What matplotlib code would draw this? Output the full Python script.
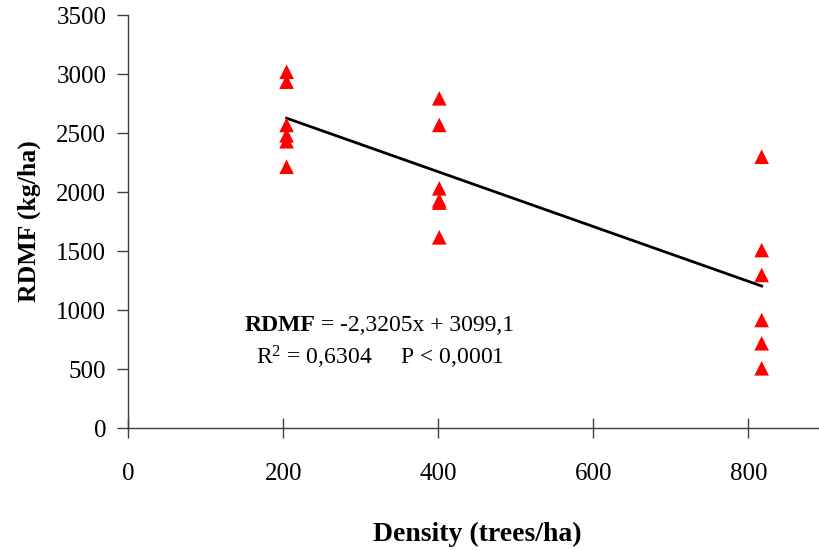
import matplotlib
matplotlib.use("Agg")
import matplotlib.pyplot as plt
import numpy as np

# density (trees/ha) and RDMF (kg/ha)
density = [204, 204, 204, 204, 204, 204,
           401, 401, 401, 401, 401, 401,
           817, 817, 817, 817, 817, 817]
rdmf = [3019, 2935, 2568, 2480, 2430, 2214,
        2794, 2568, 2031, 1930, 1910, 1616,
        2299, 1508, 1297, 915, 718, 506]

slope = -2.3205
intercept = 3099.1

xticks = [0, 200, 400, 600, 800]
yticks = [0, 500, 1000, 1500, 2000, 2500, 3000, 3500]

plt.rcParams['font.family'] = ['Liberation Serif', 'DejaVu Serif']
plt.rcParams['mathtext.fontset'] = 'custom'
plt.rcParams['mathtext.rm'] = 'Liberation Serif'
plt.rcParams['mathtext.default'] = 'regular'

fig = plt.figure(figsize=(8.2, 5.5), dpi=100)
ax = fig.add_axes([0.1567, 0.2218, 0.8506, 0.7509])

ax.scatter(density, rdmf, marker='^', s=110, color='red', edgecolors='none', zorder=3)

xl = np.array([min(density), max(density)])
ax.plot(xl, slope * xl + intercept, color='black', lw=2, zorder=2)

ax.set_xlim(0, 900)
ax.set_ylim(0, 3500)
ax.set_xticks(xticks)
ax.set_yticks(yticks)
ax.tick_params(axis='x', direction='inout', length=14, width=1, pad=18, labelsize=18, color='#404040')
ax.tick_params(axis='y', direction='out', length=8, width=1, pad=8, labelsize=18, color='#404040')

for s in ['top', 'right']:
    ax.spines[s].set_visible(False)
for s in ['left', 'bottom']:
    ax.spines[s].set_color('#404040')
    ax.spines[s].set_linewidth(1)
ax.spines['bottom'].set_clip_on(False)

ax.set_xlabel('Density (trees/ha)', fontsize=20, fontweight='bold', labelpad=27)
ax.set_ylabel('RDMF (kg/ha)', fontsize=18.5, fontweight='bold', labelpad=11)

# equation: bold name followed by plain text
t1 = ax.text(0.2674, 0.249, 'RDMF', transform=ax.transAxes, ha='right', va='center',
             fontsize=17, fontweight='bold')
ax.annotate(' = -2,3205x + 3099,1', xy=(1, 0.5), xycoords=t1, ha='left', va='center',
            fontsize=17)
ax.text(0.3606, 0.172, 'R$^{2}$ = 0,6304     P < 0,0001', transform=ax.transAxes,
        ha='center', va='center', fontsize=17)

fig.savefig('out.png', dpi=100)
